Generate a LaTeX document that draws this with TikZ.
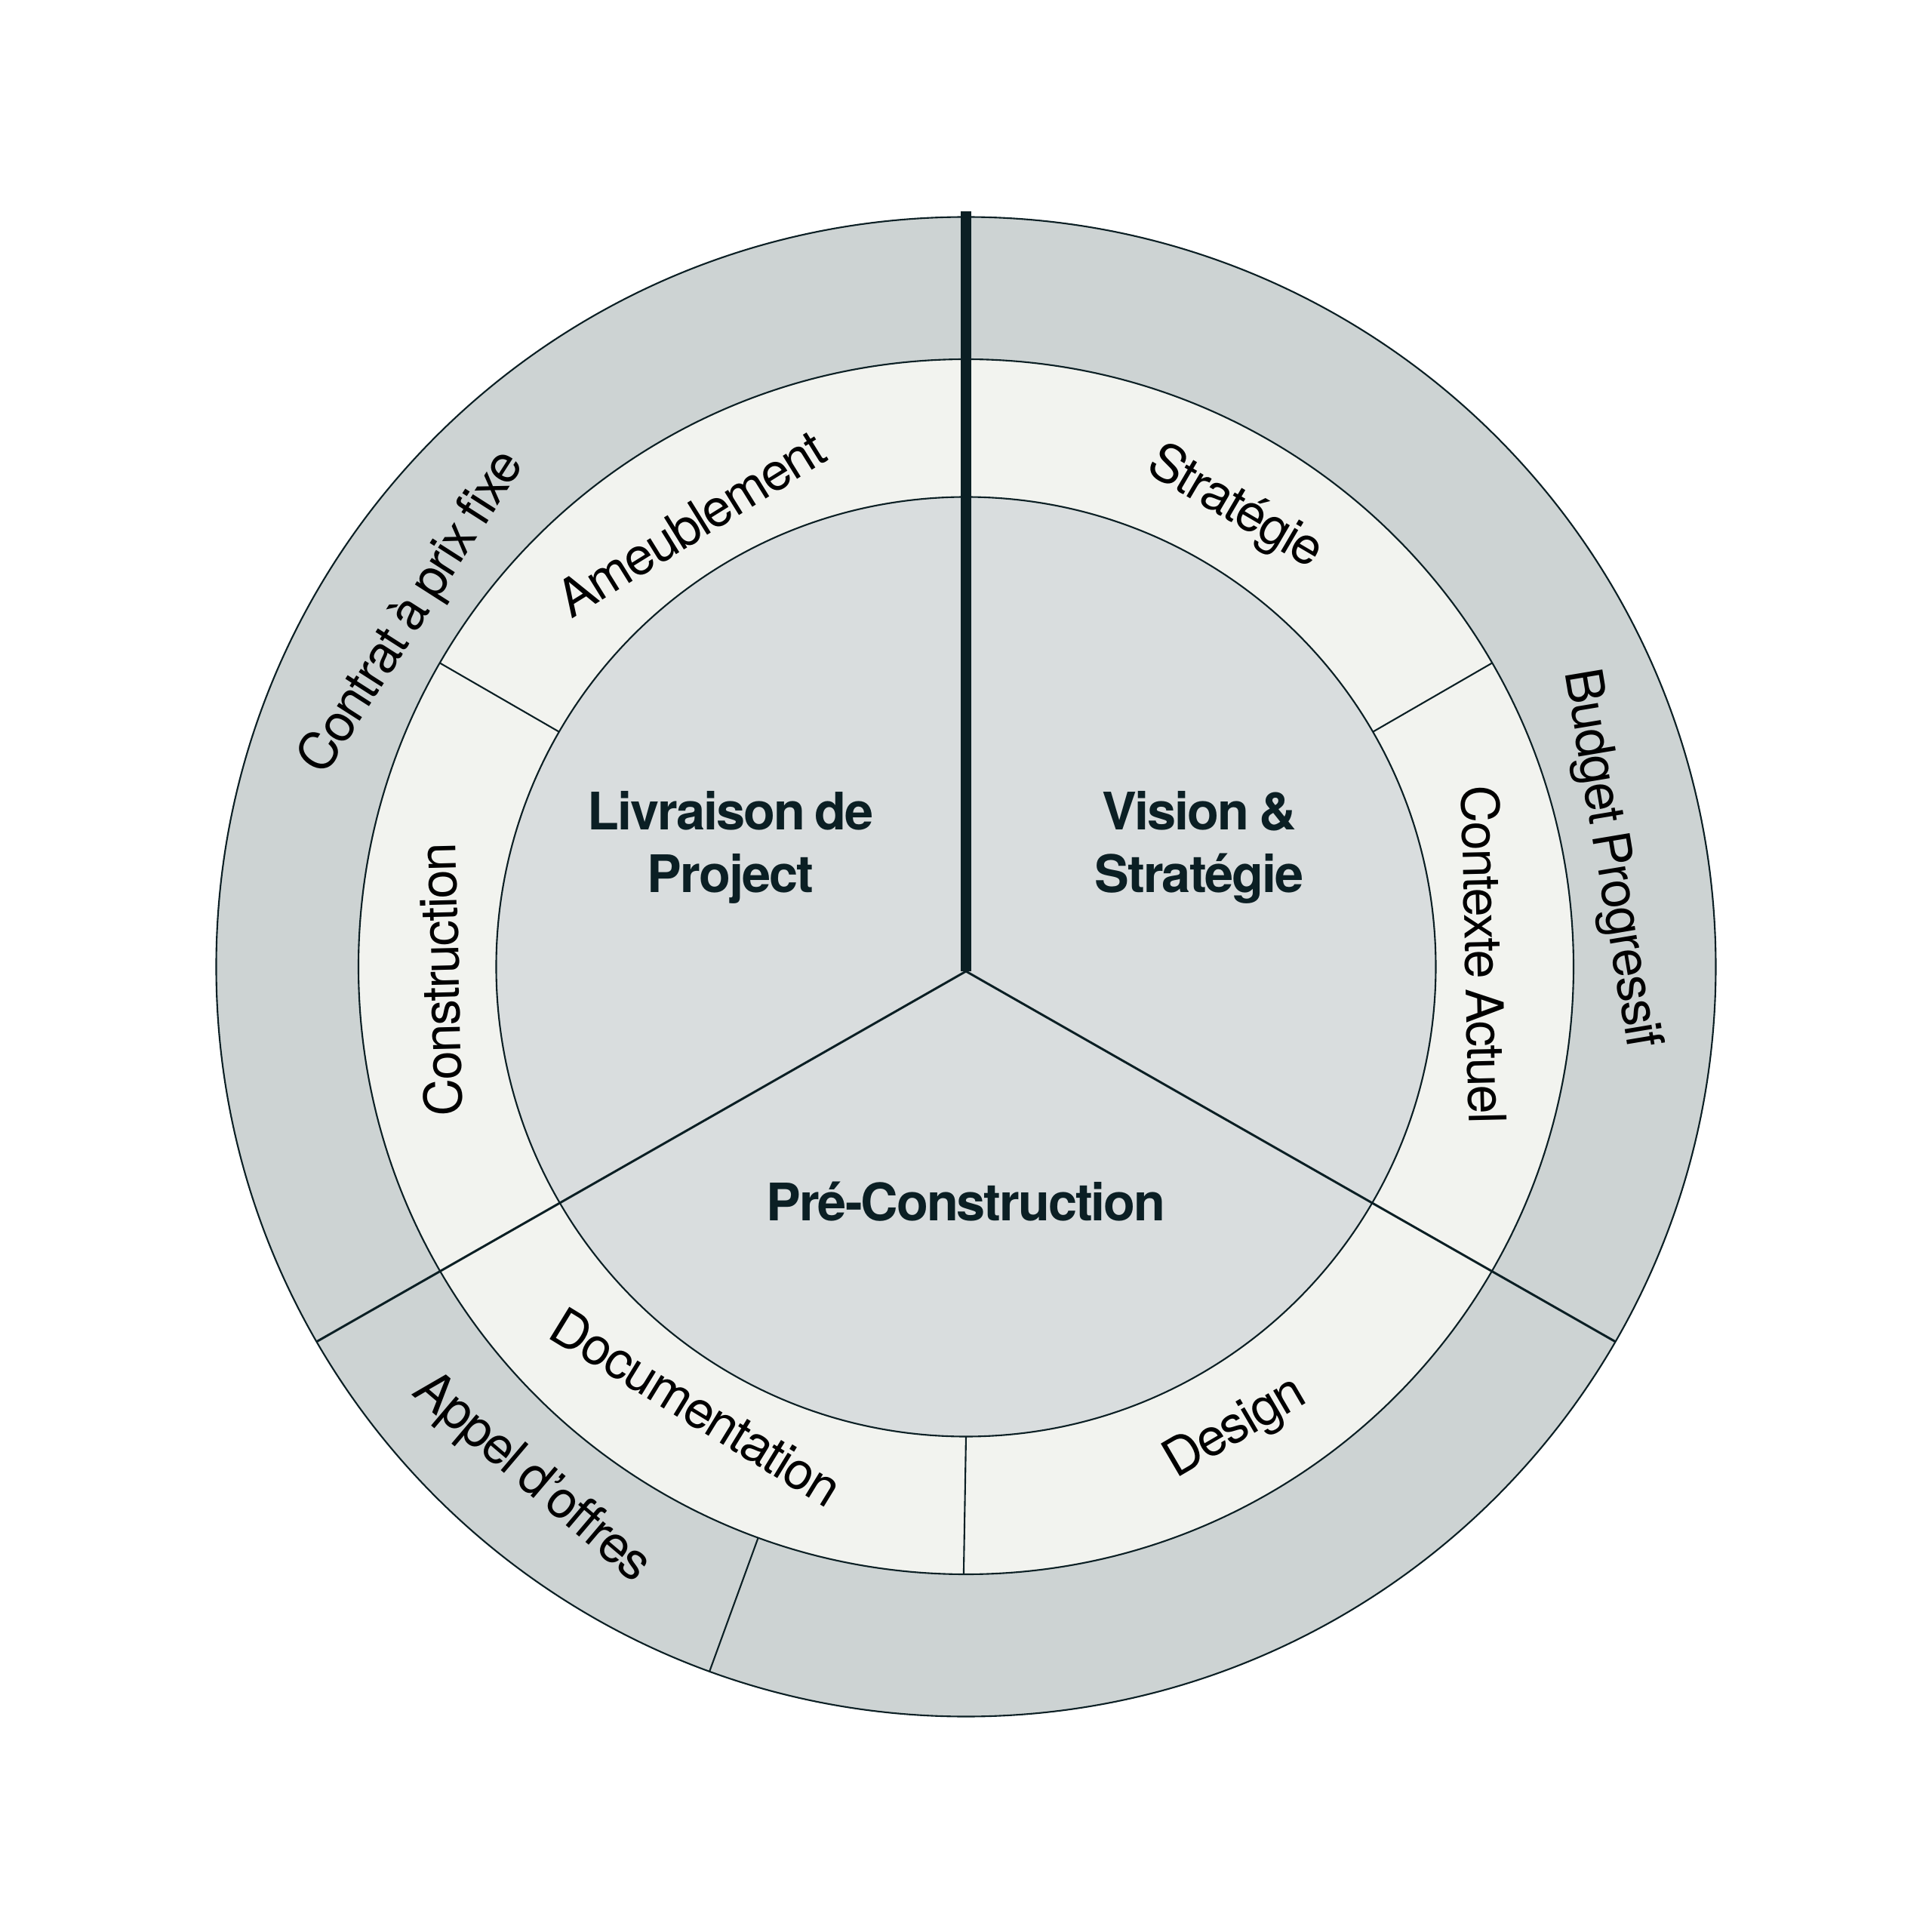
\documentclass[tikz,border=0pt]{standalone}
\usepackage{fontspec}
\setmainfont{TeX Gyre Heros}[LetterSpace=-3, WordSpace=0.75]
\definecolor{ink}{HTML}{0B1F24}
\definecolor{ringout}{HTML}{CDD3D3}
\definecolor{ringmid}{HTML}{F2F3EF}
\definecolor{core}{HTML}{D9DDDE}
\begin{document}
\begin{tikzpicture}[
  lbl/.style={font=\fontsize{19.5}{23.4}\selectfont, text=black, inner sep=0pt, anchor=center},
  head/.style={font=\fontsize{19.5}{23.4}\selectfont\bfseries, text=ink, align=center, inner sep=0pt},
  ring/.style={draw=ink, line width=0.6pt},
  divider/.style={draw=ink, line width=0.6pt},
  mainline/.style={draw=ink, line width=0.85pt},
  bar/.style={draw=ink, line width=4.2pt},
]
\useasboundingbox (-12.80,-12.79) rectangle (12.80,12.81);
\coordinate (O) at (0,0);
\coordinate (J) at (0,-0.06);
% rings
\path[ring, fill=ringout] (O) circle (9.935);
\path[ring, fill=ringmid] (O) circle (8.05);
\path[ring, fill=core] (O) circle (6.225);
% divider end points
\coordinate (a150i) at (150:6.225); \coordinate (a150o) at (150:8.05);
\coordinate (a30i) at (30:6.225);   \coordinate (a30o) at (30:8.05);
\coordinate (a270i) at (-90:6.225); \coordinate (a270o) at (-90.22:8.05);
\coordinate (a250i) at (250:8.05);  \coordinate (a250o) at (250:9.935);
\coordinate (a210) at (210:9.935);  \coordinate (a330) at (-30:9.935);
\coordinate (top) at (0,10.01);
\draw[divider] (a150i) -- (a150o);
\draw[divider] (a30i) -- (a30o);
\draw[divider] (a270i) -- (a270o);
\draw[divider] (a250i) -- (a250o);
\draw[mainline] (J) -- (a210);
\draw[mainline] (J) -- (a330);
\draw[bar] (J) -- (top);
% ring labels
\node[lbl, rotate=57.4]  (contrat) at (147.4:8.70) {Contrat à prix fixe};
\node[lbl, rotate=31.8]  (ameub)   at (121.8:6.91) {Ameublement};
\node[lbl, rotate=-30.4] (strat)   at (59.6:7.04)  {Stratégie};
\node[lbl, rotate=-88.7] (ctx)     at (1.3:6.87)   {Contexte Actuel};
\node[lbl, rotate=-80.5] (budget)  at (9.5:8.65)   {Budget Progressif};
\node[lbl, rotate=30.3]  (design)  at (-59.7:7.09) {Design};
\node[lbl, rotate=-31.5] (doc)     at (238.5:6.84) {Documentation};
\node[lbl, rotate=-40.3] (appel)   at (229.7:8.90) {Appel d’offres};
\node[lbl, rotate=91.4]  (constr)  at (181.4:6.97) {Construction};
% core labels
\node[head] (livr) at (-3.12,1.58) {Livraison de\\Project};
\node[head] (vision) at (3.09,1.58) {Vision \&\\Stratégie};
\node[head] (pre) at (0,-3.11) {Pré-Construction};
\end{tikzpicture}
\end{document}
